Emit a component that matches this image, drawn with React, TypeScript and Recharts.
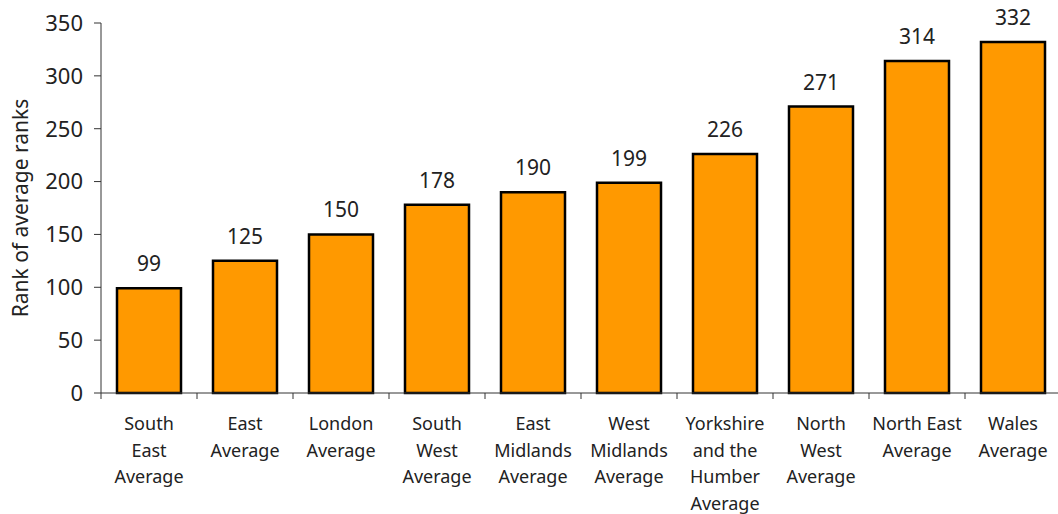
import React from 'react';
import { BarChart, Bar, XAxis, YAxis, LabelList } from 'recharts';

// regions, ranks
const regions = [
  'South\nEast\nAverage',
  'East\nAverage',
  'London\nAverage',
  'South\nWest\nAverage',
  'East\nMidlands\nAverage',
  'West\nMidlands\nAverage',
  'Yorkshire\nand the\nHumber\nAverage',
  'North\nWest\nAverage',
  'North East\nAverage',
  'Wales\nAverage',
];
const ranks = [99, 125, 150, 178, 190, 199, 226, 271, 314, 332];
const yTicks = [0, 50, 100, 150, 200, 250, 300, 350];

const data = regions.map((region, i) => ({ region, rank: ranks[i] }));

const FONT = '"Noto Sans", sans-serif';
const AXIS = '#333';

const RegionTick = (props: any) => {
  const { x, y, payload } = props;
  const lines: string[] = String(payload.value).split('\n');
  const half = payload.offset || 0;
  return (
    <g>
      <line x1={x - half} x2={x - half} y1={y - 6} y2={y} stroke={AXIS} strokeWidth={1} />
      <text x={x} y={y} textAnchor="middle" fontFamily={FONT} fontSize={18} fill="#222">
        {lines.map((l, i) => (
          <tspan key={i} x={x} dy={i === 0 ? 31 : 26.5}>
            {l}
          </tspan>
        ))}
      </text>
    </g>
  );
};

const App: React.FC = () => {
  return (
    <div style={{ position: 'absolute', left: 0, top: 0, width: 1058, height: 514, overflow: 'hidden', background: '#fff' }}>
      <BarChart
        width={1061}
        height={514}
        data={data}
        margin={{ top: 23, right: 0, bottom: 0, left: 0 }}
        barCategoryGap={16}
      >
        <XAxis
          dataKey="region"
          interval={0}
          tickLine={false}
          tickSize={6}
          tickMargin={0}
          height={121}
          stroke={AXIS}
          tick={<RegionTick />}
        />
        <YAxis
          width={101}
          domain={[0, 350]}
          ticks={yTicks}
          interval={0}
          tickSize={7}
          tickMargin={11}
          stroke={AXIS}
          tick={{ fontFamily: FONT, fontSize: 22, fill: '#222' }}
          label={{
            value: 'Rank of average ranks',
            angle: -90,
            position: 'insideLeft',
            offset: 21,
            style: { textAnchor: 'middle', fontFamily: FONT, fontSize: 21, fill: '#222' },
          }}
        />
        <Bar dataKey="rank" fill="#FF9900" stroke="#000" strokeWidth={2.5} isAnimationActive={false}>
          <LabelList
            dataKey="rank"
            position="top"
            offset={17}
            style={{ fontFamily: FONT, fontSize: 21, fill: '#222' }}
          />
        </Bar>
      </BarChart>
    </div>
  );
};

export default App;
